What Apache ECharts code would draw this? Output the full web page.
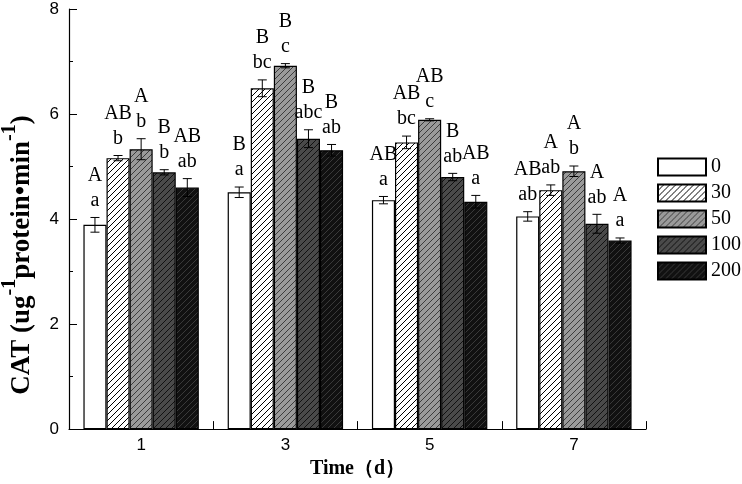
<!DOCTYPE html>
<html><head><meta charset="utf-8">
<script src="https://cdn.jsdelivr.net/npm/echarts@6/dist/echarts.min.js"></script>
<style>html,body{margin:0;padding:0;background:#fff}#c{width:742px;height:484px}</style>
</head><body><div id="c"></div>
<script>
const categories = ['1', '3', '5', '7'];
const seriesNames = ['0', '30', '50', '100', '200'];
const yTicks = [0, 2, 4, 6, 8];

const values0   = [3.89, 4.51, 4.36, 4.05];
const values30  = [5.16, 6.49, 5.46, 4.55];
const values50  = [5.33, 6.92, 5.89, 4.91];
const values100 = [4.89, 5.53, 4.80, 3.91];
const values200 = [4.60, 5.31, 4.33, 3.59];

const errors0   = [0.14, 0.10, 0.07, 0.09];
const errors30  = [0.05, 0.16, 0.12, 0.10];
const errors50  = [0.20, 0.04, 0.02, 0.10];
const errors100 = [0.05, 0.17, 0.07, 0.18];
const errors200 = [0.17, 0.11, 0.12, 0.05];

const upper0   = ['A', 'B', 'AB', 'AB'];
const upper30  = ['AB', 'B', 'AB', 'A'];
const upper50  = ['A', 'B', 'AB', 'A'];
const upper100 = ['B', 'B', 'B', 'A'];
const upper200 = ['AB', 'B', 'AB', 'A'];

const lower0   = ['a', 'a', 'a', 'ab'];
const lower30  = ['b', 'bc', 'bc', 'ab'];
const lower50  = ['b', 'c', 'c', 'b'];
const lower100 = ['b', 'abc', 'ab', 'ab'];
const lower200 = ['ab', 'ab', 'a', 'a'];

const allValues = [values0, values30, values50, values100, values200];
const allErrors = [errors0, errors30, errors50, errors100, errors200];
const allUpper = [upper0, upper30, upper50, upper100, upper200];
const allLower = [lower0, lower30, lower50, lower100, lower200];

function hatch(bg, line) {
  const size = 6;
  const c = document.createElement('canvas');
  c.width = size; c.height = size;
  const g = c.getContext('2d');
  g.fillStyle = bg; g.fillRect(0, 0, size, size);
  if (line) {
    g.strokeStyle = line; g.lineWidth = 1;
    g.beginPath();
    g.moveTo(0, size); g.lineTo(size, 0);
    g.moveTo(-1, 1); g.lineTo(1, -1);
    g.moveTo(size - 1, size + 1); g.lineTo(size + 1, size - 1);
    g.stroke();
  }
  return { image: c, repeat: 'repeat' };
}
const fills = [
  '#ffffff',
  hatch('#ffffff', '#000000'),
  hatch('#9a9a9a', '#3c3c3c'),
  hatch('#4a4a4a', '#111111'),
  hatch('#111111', '#3a3a3a')
];

const serif = '"Liberation Serif", "Times New Roman", serif';
const sans = '"Liberation Sans", Arial, sans-serif';

const series = [];
seriesNames.forEach((name, i) => {
  series.push({
    type: 'bar', name: name, data: allValues[i],
    barGap: '0%', barCategoryGap: '20%',
    itemStyle: { color: fills[i], borderColor: '#000', borderWidth: 1.2 },
    emphasis: { disabled: true }
  });
});
seriesNames.forEach((name, i) => {
  series.push({
    type: 'custom', name: 'err' + name, z: 10, silent: true,
    data: categories.map((c, j) => [j, allValues[i][j], allErrors[i][j]]),
    encode: { x: 0, y: 1 },
    renderItem: function (params, api) {
      const j = api.value(0), v = api.value(1), e = api.value(2);
      const band = api.size([1, 0])[0];
      const bw = band * 0.8 / 5;
      const cx = api.coord([j, 0])[0] + (i - 2) * bw;
      const yt = api.coord([j, v + e])[1];
      const yb = api.coord([j, v - e])[1];
      const cap = 4.5;
      const ls = { stroke: '#000', lineWidth: 1 };
      const ts = (t, y) => ({ type: 'text', style: { text: t, x: cx, y: y, align: 'center', verticalAlign: 'middle', fontSize: 20, fontFamily: serif, fill: '#000' } });
      return { type: 'group', children: [
        { type: 'line', shape: { x1: cx, y1: yt, x2: cx, y2: yb }, style: ls },
        { type: 'line', shape: { x1: cx - cap, y1: yt, x2: cx + cap, y2: yt }, style: ls },
        { type: 'line', shape: { x1: cx - cap, y1: yb, x2: cx + cap, y2: yb }, style: ls },
        ts(allLower[i][j], yt - 17),
        ts(allUpper[i][j], yt - 42)
      ] };
    }
  });
});

const chart = echarts.init(document.getElementById('c'), null, { renderer: 'canvas' });
chart.setOption({
  animation: false,
  backgroundColor: '#fff',
  grid: { left: 69, right: 96, top: 9, bottom: 49, containLabel: false },
  legend: {
    data: seriesNames, orient: 'vertical', left: 657, top: 157, padding: 0,
    itemWidth: 48, itemHeight: 17, itemGap: 6, icon: 'rect',
    textStyle: { fontFamily: serif, fontSize: 20, color: '#000' },
    selectedMode: false
  },
  xAxis: {
    type: 'category', data: categories,
    axisLine: { lineStyle: { color: '#000', width: 1.2 } },
    axisTick: { show: true, inside: true, length: 8, lineStyle: { color: '#000' } },
    axisLabel: { color: '#000', fontFamily: sans, fontSize: 17, margin: 8 },
    name: 'Time（d）', nameLocation: 'middle', nameGap: 25,
    nameTextStyle: { fontFamily: serif, fontWeight: 'bold', fontSize: 20, color: '#000' }
  },
  yAxis: {
    type: 'value', min: yTicks[0], max: yTicks[yTicks.length - 1], interval: 2,
    axisLine: { show: true, lineStyle: { color: '#000', width: 1.2 } },
    axisTick: { show: true, inside: true, length: 8, lineStyle: { color: '#000' } },
    minorTick: { show: true, splitNumber: 2, length: 4, lineStyle: { color: '#000' } },
    splitLine: { show: false },
    axisLabel: { color: '#000', fontFamily: sans, fontSize: 17, margin: 10 }
  },
  graphic: [{
    type: 'text', x: 22, y: 255, rotation: Math.PI / 2,
    style: {
      text: '{b|CAT (ug}{s|-1}{b|protein•min}{s|-1}{b|)}',
      align: 'center', verticalAlign: 'middle',
      rich: {
        b: { fontFamily: serif, fontWeight: 'bold', fontSize: 27, lineHeight: 44, fill: '#000', color: '#000' },
        s: { fontFamily: serif, fontWeight: 'bold', fontSize: 20, verticalAlign: 'top', fill: '#000', color: '#000' }
      }
    }
  }],
  series: series
});
</script></body></html>
